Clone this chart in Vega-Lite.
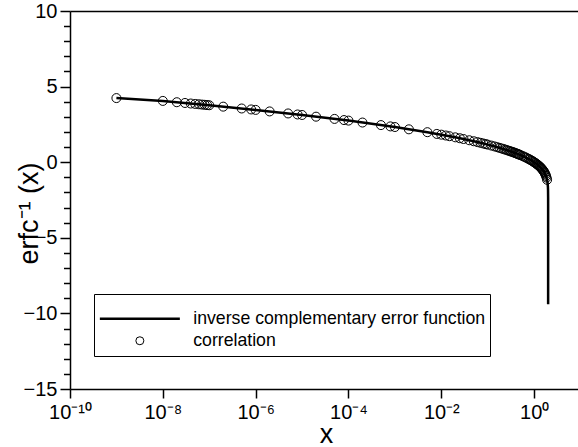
{
  "$schema": "https://vega.github.io/schema/vega-lite/v6.json",
  "width": 508,
  "height": 378,
  "autosize": {"type": "none"},
  "padding": {"left": 70, "top": 11, "right": 0, "bottom": 58},
  "background": "white",
  "config": {
    "font": "Liberation Sans",
    "view": {"stroke": null},
    "axis": {
      "grid": false,
      "domainColor": "black",
      "domainWidth": 1.5,
      "tickColor": "black",
      "tickWidth": 1.5,
      "labelColor": "black",
      "titleColor": "black",
      "labelFont": "Liberation Sans",
      "titleFont": "Liberation Sans",
      "titleFontWeight": "normal",
      "labelFlush": false,
      "labelOverlap": false
    }
  },
  "datasets": {
    "curve": [
      {"x": 1e-9, "y": 4.24},
      {"x": 1e-8, "y": 4.053},
      {"x": 1e-7, "y": 3.767},
      {"x": 1e-6, "y": 3.459},
      {"x": 1e-5, "y": 3.123},
      {"x": 1e-4, "y": 2.751},
      {"x": 1e-3, "y": 2.327},
      {"x": 0.005, "y": 1.985},
      {"x": 0.01, "y": 1.821},
      {"x": 0.02, "y": 1.645},
      {"x": 0.03, "y": 1.534},
      {"x": 0.05, "y": 1.386},
      {"x": 0.07, "y": 1.281},
      {"x": 0.1, "y": 1.163},
      {"x": 0.15, "y": 1.018},
      {"x": 0.2, "y": 0.906},
      {"x": 0.3, "y": 0.733},
      {"x": 0.4, "y": 0.595},
      {"x": 0.5, "y": 0.477},
      {"x": 0.6, "y": 0.371},
      {"x": 0.7, "y": 0.273},
      {"x": 0.8, "y": 0.179},
      {"x": 0.9, "y": 0.089},
      {"x": 1.0, "y": 0},
      {"x": 1.1, "y": -0.089},
      {"x": 1.2, "y": -0.179},
      {"x": 1.3, "y": -0.273},
      {"x": 1.4, "y": -0.371},
      {"x": 1.5, "y": -0.477},
      {"x": 1.6, "y": -0.595},
      {"x": 1.7, "y": -0.733},
      {"x": 1.8, "y": -0.906},
      {"x": 1.85, "y": -1.018},
      {"x": 1.9, "y": -1.163},
      {"x": 1.95, "y": -1.386},
      {"x": 1.98, "y": -1.645},
      {"x": 1.99, "y": -1.821},
      {"x": 1.999, "y": -2.327},
      {"x": 1.9999, "y": -2.751},
      {"x": 2.0, "y": -9.4}
    ],
    "corr": [
      {"x": 1e-9, "y": 4.24, "series": "correlation"},
      {"x": 1e-8, "y": 4.053, "series": "correlation"},
      {"x": 2e-8, "y": 3.967, "series": "correlation"},
      {"x": 3e-8, "y": 3.917, "series": "correlation"},
      {"x": 4e-8, "y": 3.881, "series": "correlation"},
      {"x": 5e-8, "y": 3.853, "series": "correlation"},
      {"x": 6e-8, "y": 3.831, "series": "correlation"},
      {"x": 7e-8, "y": 3.811, "series": "correlation"},
      {"x": 8e-8, "y": 3.795, "series": "correlation"},
      {"x": 9e-8, "y": 3.780, "series": "correlation"},
      {"x": 1e-7, "y": 3.767, "series": "correlation"},
      {"x": 2e-7, "y": 3.674, "series": "correlation"},
      {"x": 5e-7, "y": 3.552, "series": "correlation"},
      {"x": 8e-7, "y": 3.489, "series": "correlation"},
      {"x": 1e-6, "y": 3.459, "series": "correlation"},
      {"x": 2e-6, "y": 3.358, "series": "correlation"},
      {"x": 5e-6, "y": 3.224, "series": "correlation"},
      {"x": 8e-6, "y": 3.156, "series": "correlation"},
      {"x": 1e-5, "y": 3.123, "series": "correlation"},
      {"x": 2e-5, "y": 3.011, "series": "correlation"},
      {"x": 5e-5, "y": 2.863, "series": "correlation"},
      {"x": 8e-5, "y": 2.787, "series": "correlation"},
      {"x": 1e-4, "y": 2.751, "series": "correlation"},
      {"x": 2e-4, "y": 2.623, "series": "correlation"},
      {"x": 5e-4, "y": 2.455, "series": "correlation"},
      {"x": 8e-4, "y": 2.368, "series": "correlation"},
      {"x": 1e-3, "y": 2.327, "series": "correlation"},
      {"x": 2e-3, "y": 2.175, "series": "correlation"},
      {"x": 5e-3, "y": 1.985, "series": "correlation"},
      {"x": 8e-3, "y": 1.870, "series": "correlation"},
      {"x": 0.01, "y": 1.821, "series": "correlation"},
      {"x": 0.0125, "y": 1.765, "series": "correlation"},
      {"x": 0.015, "y": 1.719, "series": "correlation"},
      {"x": 0.02, "y": 1.645, "series": "correlation"},
      {"x": 0.025, "y": 1.585, "series": "correlation"},
      {"x": 0.03, "y": 1.534, "series": "correlation"},
      {"x": 0.04, "y": 1.452, "series": "correlation"},
      {"x": 0.05, "y": 1.386, "series": "correlation"},
      {"x": 0.06, "y": 1.329, "series": "correlation"},
      {"x": 0.07, "y": 1.281, "series": "correlation"},
      {"x": 0.08, "y": 1.238, "series": "correlation"},
      {"x": 0.09, "y": 1.199, "series": "correlation"},
      {"x": 0.1, "y": 1.163, "series": "correlation"},
      {"x": 0.12, "y": 1.099, "series": "correlation"},
      {"x": 0.14, "y": 1.043, "series": "correlation"},
      {"x": 0.16, "y": 0.993, "series": "correlation"},
      {"x": 0.18, "y": 0.947, "series": "correlation"},
      {"x": 0.2, "y": 0.906, "series": "correlation"},
      {"x": 0.22, "y": 0.867, "series": "correlation"},
      {"x": 0.24, "y": 0.830, "series": "correlation"},
      {"x": 0.26, "y": 0.796, "series": "correlation"},
      {"x": 0.28, "y": 0.763, "series": "correlation"},
      {"x": 0.3, "y": 0.732, "series": "correlation"},
      {"x": 0.32, "y": 0.703, "series": "correlation"},
      {"x": 0.34, "y": 0.676, "series": "correlation"},
      {"x": 0.36, "y": 0.649, "series": "correlation"},
      {"x": 0.38, "y": 0.622, "series": "correlation"},
      {"x": 0.4, "y": 0.595, "series": "correlation"},
      {"x": 0.42, "y": 0.571, "series": "correlation"},
      {"x": 0.44, "y": 0.547, "series": "correlation"},
      {"x": 0.46, "y": 0.523, "series": "correlation"},
      {"x": 0.48, "y": 0.4995, "series": "correlation"},
      {"x": 0.5, "y": 0.477, "series": "correlation"},
      {"x": 0.55, "y": 0.423, "series": "correlation"},
      {"x": 0.6, "y": 0.371, "series": "correlation"},
      {"x": 0.65, "y": 0.321, "series": "correlation"},
      {"x": 0.7, "y": 0.273, "series": "correlation"},
      {"x": 0.75, "y": 0.225, "series": "correlation"},
      {"x": 0.8, "y": 0.179, "series": "correlation"},
      {"x": 0.85, "y": 0.134, "series": "correlation"},
      {"x": 0.9, "y": 0.089, "series": "correlation"},
      {"x": 0.95, "y": 0.044, "series": "correlation"},
      {"x": 1.0, "y": 0, "series": "correlation"},
      {"x": 1.05, "y": -0.044, "series": "correlation"},
      {"x": 1.1, "y": -0.089, "series": "correlation"},
      {"x": 1.15, "y": -0.134, "series": "correlation"},
      {"x": 1.2, "y": -0.179, "series": "correlation"},
      {"x": 1.25, "y": -0.225, "series": "correlation"},
      {"x": 1.3, "y": -0.273, "series": "correlation"},
      {"x": 1.35, "y": -0.321, "series": "correlation"},
      {"x": 1.4, "y": -0.371, "series": "correlation"},
      {"x": 1.45, "y": -0.423, "series": "correlation"},
      {"x": 1.5, "y": -0.477, "series": "correlation"},
      {"x": 1.55, "y": -0.535, "series": "correlation"},
      {"x": 1.6, "y": -0.595, "series": "correlation"},
      {"x": 1.65, "y": -0.662, "series": "correlation"},
      {"x": 1.7, "y": -0.733, "series": "correlation"},
      {"x": 1.75, "y": -0.813, "series": "correlation"},
      {"x": 1.8, "y": -0.906, "series": "correlation"},
      {"x": 1.85, "y": -1.018, "series": "correlation"},
      {"x": 1.9, "y": -1.163, "series": "correlation"}
    ]
  },
  "layer": [
    {
      "data": {"name": "curve"},
      "mark": {"type": "line", "color": "black", "strokeWidth": 2.5, "clip": true},
      "encoding": {
        "x": {
          "field": "x",
          "type": "quantitative",
          "scale": {"type": "log", "domain": [1e-10, 8.8], "nice": false},
          "axis": {
            "orient": "bottom",
            "values": [1e-10, 1e-8, 1e-6, 1e-4, 1e-2, 1],
            "tickSize": 9,
            "labelPadding": 20,
            "labelBaseline": "alphabetic",
            "labelFontSize": 20,
            "labelExpr": "datum.value == 1 ? '10⁰' : datum.value < 1e-9 ? '10⁻¹⁰' : datum.value < 1e-7 ? '10⁻⁸' : datum.value < 1e-5 ? '10⁻⁶' : datum.value < 1e-3 ? '10⁻⁴' : '10⁻²'",
            "title": "x",
            "titleFontSize": 27,
            "titleX": 256,
            "titleY": 53,
            "titleAlign": "center",
            "titleBaseline": "alphabetic",
            "encode": {"ticks": {"update": {"y": {"value": 0}, "y2": {"value": -9}}}}
          }
        },
        "y": {
          "field": "y",
          "type": "quantitative",
          "scale": {"domain": [-15, 10], "nice": false},
          "axis": {
            "orient": "left",
            "values": [-15, -10, -5, 0, 5, 10],
            "tickSize": 10,
            "labelPadding": 3,
            "labelFontSize": 20,
            "title": "erfc⁻¹ (x)",
            "titleFontSize": 27,
            "titleAngle": 270,
            "titleX": -33,
            "titleY": 202,
            "titleAlign": "center",
            "titleBaseline": "alphabetic",
            "encode": {"ticks": {"update": {"x": {"value": 0}, "x2": {"value": 10}}}}
          }
        }
      }
    },
    {
      "data": {"name": "corr"},
      "mark": {"type": "point", "filled": false, "color": "black", "size": 81, "strokeWidth": 1, "opacity": 1},
      "encoding": {
        "x": {
          "field": "x",
          "type": "quantitative",
          "axis": {"orient": "top", "ticks": false, "labels": false, "title": null}
        },
        "y": {
          "field": "y",
          "type": "quantitative",
          "axis": {
            "orient": "left",
            "values": [-14, -13, -12, -11, -9, -8, -7, -6, -4, -3, -2, -1, 1, 2, 3, 4, 6, 7, 8, 9],
            "tickSize": 6.5,
            "labels": false,
            "domain": false,
            "title": null,
            "encode": {"ticks": {"update": {"x": {"value": 0}, "x2": {"value": 6.5}}}}
          }
        },
        "shape": {
          "field": "series",
          "type": "nominal",
          "scale": {
            "domain": ["inverse complementary error function", "correlation"],
            "range": ["stroke", "circle"]
          },
          "legend": {
            "orient": "none",
            "legendX": 24,
            "legendY": 283,
            "direction": "vertical",
            "title": " ",
            "titleFontSize": 1,
            "titlePadding": 9,
            "padding": 4,
            "strokeColor": "black",
            "fillColor": "white",
            "cornerRadius": 0,
            "labelFont": "Liberation Sans",
            "labelFontSize": 17.7,
            "labelColor": "black",
            "labelOffset": 44.5,
            "labelLimit": 400,
            "clipHeight": 21.5,
            "rowPadding": 0,
            "symbolOffset": 33,
            "symbolStrokeColor": "black",
            "symbolFillColor": "transparent",
            "symbolSize": {"expr": "datum.value === 'correlation' ? 64 : 6400"},
            "symbolStrokeWidth": {"expr": "datum.value === 'correlation' ? 1 : 2.5"}
          }
        }
      }
    }
  ],
  "resolve": {"axis": {"x": "independent", "y": "independent"}}
}
